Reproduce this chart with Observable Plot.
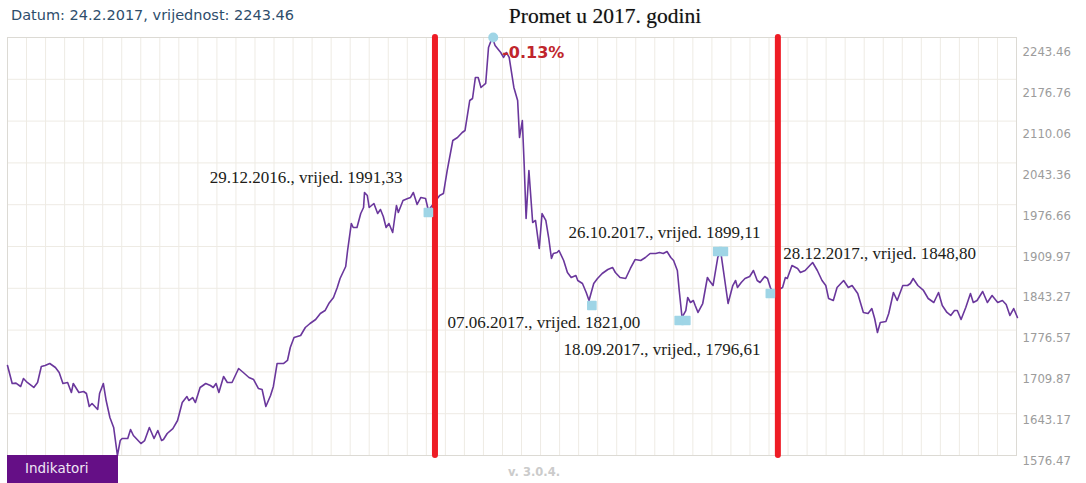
<!DOCTYPE html>
<html>
<head>
<meta charset="utf-8">
<script src="https://cdn.jsdelivr.net/npm/d3@7"></script>
<script src="https://cdn.jsdelivr.net/npm/@observablehq/plot@0.6"></script>
<style>
  html, body { margin: 0; padding: 0; background: #fff; }
  #wrap { position: relative; width: 1086px; height: 483px; overflow: hidden; }
  #wrap svg { position: absolute; left: 0; top: 0; }
  .hdr { position: absolute; left: 11px; top: 7px; font: 14.5px "DejaVu Sans", sans-serif; color: #2e4d6b; white-space: nowrap; }
  .ttl { position: absolute; left: 605px; top: 4px; transform: translateX(-50%); font: 21.5px "Liberation Serif", serif; color: #111; white-space: nowrap; text-shadow: 0 0 1px rgba(0,0,0,0.35); }
  .btn { position: absolute; left: 7px; top: 455px; width: 111px; height: 28px; background: #650f86; color: #efe6f4; font: 13.5px "DejaVu Sans", sans-serif; line-height: 26px; padding-left: 18px; box-sizing: border-box; }
  .ver { position: absolute; left: 508px; top: 465px; font: bold 11.5px "DejaVu Sans", sans-serif; color: #cbcbcb; white-space: nowrap; }
</style>
</head>
<body>
<div id="wrap">
  <div class="hdr">Datum: 24.2.2017, vrijednost: 2243.46</div>
  <div class="ttl">Promet u 2017. godini</div>
  <div class="btn">Indikatori</div>
  <div class="ver">v. 3.0.4.</div>
</div>
<script>
// ---- data ----
const startDate = "2015-10-04";          // first point of the series
const lastDay = 1074;                     // right edge of the plot, days after start
// days after startDate
const dayOffset = [0,5,9,14,17,21,28,32,36,40,45,51,55,59,64,68,70,76,81,84,87,90,96,98,102,105,109,113,117,120,
122,128,131,134,142,146,151,156,160,164,166,170,176,181,186,191,193,197,200,205,211,216,219,222,225,230,234,239,246,251,
257,262,267,271,275,280,283,287,294,298,301,305,312,317,322,328,333,338,342,347,351,354,360,362,366,368,372,376,379,380,
383,385,390,394,397,400,403,406,410,414,416,421,426,429,432,436,440,445,448,460,464,468,474,479,484,487,492,495,498,501,
504,509,512,516,519,525,528,531,534,539,543,545,548,550,552,555,559,562,566,569,573,576,579,581,585,587,592,596,600,605,
607,612,616,619,624,628,633,639,644,647,652,658,663,668,674,679,684,690,694,698,702,706,709,713,715,718,722,724,727,730,
732,735,740,745,747,751,756,759,762,767,772,775,777,781,785,790,794,798,801,806,809,812,815,825,828,830,835,841,844,849,
857,862,867,871,874,879,883,890,895,899,905,911,916,920,923,926,929,935,938,943,947,953,958,961,964,969,975,980,986,991,
995,1000,1004,1008,1011,1015,1020,1025,1028,1032,1038,1043,1048,1054,1059,1063,1067,1071,1075];
// index value
const crobex = [1720.1,1691.4,1692.0,1686.6,1699.3,1693.0,1685.0,1693.0,1718.5,1720.1,1723.3,1716.9,1708.9,1691.4,1693.0,1677.0,1691.4,1677.0,1678.6,1675.4,
1654.7,1659.4,1649.9,1675.4,1691.4,1664.2,1637.1,1621.2,1576.47,1600.4,1603.6,1603.6,1618.0,1608.4,1595.6,1600.4,1621.2,1603.6,1616.4,1600.4,
1602.0,1611.6,1619.5,1632.3,1661.0,1670.6,1664.2,1669.0,1661.0,1685.0,1691.4,1688.2,1685.0,1691.4,1677.0,1702.5,1693.0,1693.0,1715.3,1708.9,
1700.9,1697.7,1683.4,1681.8,1654.7,1672.2,1686.6,1723.3,1723.3,1728.1,1748.8,1764.8,1768.0,1780.7,1787.1,1793.5,1803.1,1807.8,1819.0,1828.6,
1844.5,1858.9,1878.1,1903.6,1946.7,1940.3,1940.3,1962.6,1972.2,1996.1,1991.3,1972.2,1978.6,1962.6,1969.0,1957.8,1940.3,1946.7,1932.3,1975.4,
1964.2,1983.4,1986.6,1988.2,1996.1,1977.0,1988.2,1986.6,1967.4,1991.3,1994.5,2031.2,2079.1,2083.9,2091.9,2095.1,2142.9,2146.1,2179.6,2179.6,
2163.7,2170.1,2227.5,2243.46,2230.7,2219.5,2211.6,2219.5,2211.6,2163.7,2142.9,2083.9,2111.0,2039.2,1954.6,2031.2,1948.3,1951.5,1906.8,1962.6,
1951.5,1924.3,1890.8,1898.8,1900.4,1903.6,1887.6,1868.5,1860.5,1863.7,1855.7,1850.9,1836.6,1823.8,1850.9,1858.9,1866.9,1873.3,1876.5,1868.5,
1860.5,1858.9,1874.9,1889.2,1887.6,1892.4,1898.8,1898.8,1900.4,1898.8,1902.0,1892.4,1887.6,1871.7,1839.8,1796.7,1807.8,1828.6,1820.6,1823.8,
1815.8,1804.7,1819.0,1860.5,1855.7,1847.7,1892.4,1903.6,1871.7,1819.0,1847.7,1855.7,1844.5,1852.5,1858.9,1862.1,1871.7,1855.7,1852.5,1862.1,
1858.9,1844.5,1836.6,1844.5,1860.5,1858.9,1879.6,1874.9,1868.5,1871.7,1884.4,1871.7,1855.7,1847.7,1827.0,1823.8,1844.5,1855.7,1844.5,1847.7,
1835.0,1804.7,1803.1,1811.0,1795.1,1772.7,1788.7,1790.3,1803.1,1836.6,1823.8,1847.7,1847.7,1850.9,1858.9,1847.7,1839.8,1827.0,1820.6,1836.6,
1815.8,1804.7,1799.9,1807.8,1807.8,1793.5,1812.6,1835.0,1820.6,1823.8,1838.2,1820.6,1831.8,1820.6,1823.8,1817.4,1799.9,1811.0,1796.7];

// right-hand axis tick labels
const yTickLabels = ["1576.47","1643.17","1709.87","1776.57","1843.27","1909.97","1976.66","2043.36","2110.06","2176.76","2243.46"];

// year 2017 boundaries (red bars)
const yearBounds = ["2017-01-01", "2018-01-01"];

// highlighted points (days after start, value) and their notes
const markDays   = [448, 622, 715, 722, 756, 762, 812];
const markValues = [1964.2, 1815.8, 1791.9, 1791.9, 1902.0, 1902.0, 1835.0];
const peakDay = 517, peakValue = 2243.46, peakNote = "-0.13%";
const notes = [
  {day: 448, value: 1964.2, text: "29.12.2016., vrijed. 1991,33", anchor: "end",    dx: -26,   dy: -35},
  {day: 622, value: 1815.8, text: "07.06.2017., vrijed. 1821,00", anchor: "middle", dx: -48,   dy: 17},
  {day: 718, value: 1791.9, text: "18.09.2017., vrijed., 1796,61", anchor: "middle", dx: -20,  dy: 29},
  {day: 759, value: 1902.0, text: "26.10.2017., vrijed. 1899,11", anchor: "middle", dx: -56,   dy: -19},
  {day: 812, value: 1835.0, text: "28.12.2017., vrijed. 1848,80", anchor: "start",  dx: 13,    dy: -40}
];

// ---- build ----
const t0 = new Date(startDate + "T00:00:00Z");
const dayToDate = d => d3.utcDay.offset(t0, d);
const series = dayOffset.map((d, i) => ({date: dayToDate(d), value: crobex[i]}));
const yTicks = yTickLabels.map(Number);
const yMin = d3.min(crobex), yMax = d3.max(crobex);
const xDomain = [t0, dayToDate(lastDay)];
const nVGrid = 53;
const vGrid = d3.range(nVGrid + 1).map(i => new Date(+xDomain[0] + i * (xDomain[1] - xDomain[0]) / nVGrid));
// labels sit slightly below their grid line, more so near the top
const labelPos = d3.scaleLinear().domain([yMin, yMax]).range([yMin - 8, yMax - 23.5]);

const marks = markDays.map((d, i) => ({date: dayToDate(d), value: markValues[i]}));
const noteData = notes.map(n => ({...n, date: dayToDate(n.day)}));

const chart = Plot.plot({
  width: 1086,
  height: 483,
  marginLeft: 7,
  marginRight: 70,
  marginTop: 37,
  marginBottom: 28,
  style: {background: "transparent", overflow: "visible"},
  x: {type: "utc", domain: xDomain, axis: null},
  y: {domain: [yMin, yMax], axis: null},
  marks: [
    Plot.ruleX(vGrid, {stroke: "#eeebe4", strokeWidth: 1}),
    Plot.ruleY(yTicks, {stroke: "#eeebe4", strokeWidth: 1}),
    Plot.frame({stroke: "#dcdad4"}),
    Plot.line(series, {x: "date", y: "value", stroke: "#6a379c", strokeWidth: 1.6, strokeLinejoin: "round"}),
    Plot.ruleX(yearBounds.map(s => new Date(s + "T00:00:00Z")), {stroke: "#ee1c25", strokeWidth: 6, strokeLinecap: "round"}),
    Plot.dot(marks, {x: "date", y: "value", symbol: "square", r: 4.6, fill: "#9fd5e6", stroke: "#9fd5e6", strokeWidth: 1.5, strokeLinejoin: "round"}),
    Plot.dot([{date: dayToDate(peakDay), value: peakValue}], {x: "date", y: "value", r: 5, fill: "#9fd5e6"}),
    Plot.text([{date: dayToDate(peakDay), value: peakValue}], {x: "date", y: "value", text: () => peakNote, textAnchor: "start", dx: 9, dy: 15, fill: "#c0262c", fontSize: 16, fontWeight: "bold", fontFamily: "DejaVu Sans, sans-serif"}),
    ...noteData.map(n => Plot.text([n], {x: "date", y: "value", text: "text", textAnchor: n.anchor, dx: n.dx, dy: n.dy, fill: "#201c18", fontSize: 17, fontFamily: "Liberation Serif, serif"})),
    Plot.text(yTicks, {y: d => labelPos(d), text: (d, i) => yTickLabels[i], frameAnchor: "right", textAnchor: "start", dx: 6, fill: "#9c9c9c", fontSize: 13, fontFamily: "DejaVu Sans Condensed, DejaVu Sans, sans-serif"})
  ]
});
document.getElementById("wrap").prepend(chart);
</script>
</body>
</html>
